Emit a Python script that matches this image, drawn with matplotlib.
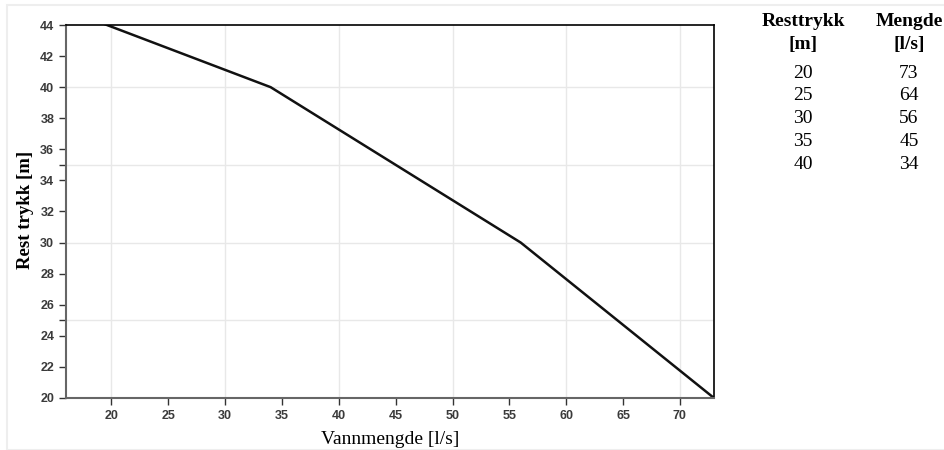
import matplotlib.pyplot as plt
from matplotlib.patches import Rectangle

# line data (flow [l/s] vs residual pressure [m]); last point runs past the top of the axis
vannmengde = [73, 56, 45, 34, 16]
resttrykk = [20, 30, 35, 40, 45]

# table on the right
tab_trykk = ['20', '25', '30', '35', '40']
tab_mengde = ['73', '64', '56', '45', '34']

W, H = 944, 450
fig = plt.figure(figsize=(W / 100, H / 100), dpi=100)

# faint frame around the whole panel
fig.patches.append(Rectangle((7 / W, 0), 1, 1 - 5 / H, transform=fig.transFigure,
                             fill=False, edgecolor='#eeeeee', linewidth=1.5))

ax = fig.add_axes([66 / W, 1 - 398 / H, (714 - 66) / W, (398 - 25) / H])
ax.plot(vannmengde, resttrykk, color='#111111', linewidth=1.8, clip_on=True)
ax.set_xlim(16, 73)
ax.set_ylim(20, 44)

ax.set_xticks(range(20, 71, 5))
ax.set_yticks(range(20, 45, 2))
ax.set_yticks([25, 35], minor=True)
ax.tick_params(axis='both', labelsize=9, colors='#333333', length=5, width=1)
ax.tick_params(axis='y', which='minor', length=5, width=1, colors='#333333')
for lab in ax.get_xticklabels() + ax.get_yticklabels():
    lab.set_fontfamily('Liberation Sans')
    lab.set_fontweight('bold')
    lab.set_color('#3a3a3a')

# light grid
for gx in range(20, 71, 10):
    ax.axvline(gx, color='#e8e8e8', linewidth=1, zorder=0)
for gy in [25, 30, 35, 40]:
    ax.axhline(gy, color='#e8e8e8', linewidth=1, zorder=0)

for s in ['left', 'bottom']:
    ax.spines[s].set_color('#666666')
    ax.spines[s].set_linewidth(1.5)
for s in ['top', 'right']:
    ax.spines[s].set_color('#000000')
    ax.spines[s].set_linewidth(1.2)

serif = 'Liberation Serif'
fig.text(25 / W, 1 - 210 / H, 'Rest trykk [m]', rotation=90, ha='center', va='center',
         fontfamily=serif, fontweight='bold', fontsize=13.5)
fig.text(390 / W, 1 - 440 / H, 'Vannmengde [l/s]', ha='center', va='center',
         fontfamily=serif, fontsize=14)

# table
for cx, head, unit in [(803, 'Resttrykk', '[m]'), (909, 'Mengde', '[l/s]')]:
    fig.text(cx / W, 1 - 21 / H, head, ha='center', va='center',
             fontfamily=serif, fontweight='bold', fontsize=14)
    fig.text(cx / W, 1 - 45 / H, unit, ha='center', va='center',
             fontfamily=serif, fontweight='bold', fontsize=14)
for i, (t, m) in enumerate(zip(tab_trykk, tab_mengde)):
    yy = 1 - (73 + i * 22.8) / H
    fig.text(803 / W, yy, t, ha='center', va='center', fontfamily=serif, fontsize=14)
    fig.text(909 / W, yy, m, ha='center', va='center', fontfamily=serif, fontsize=14)

fig.savefig('out.png', dpi=100)
